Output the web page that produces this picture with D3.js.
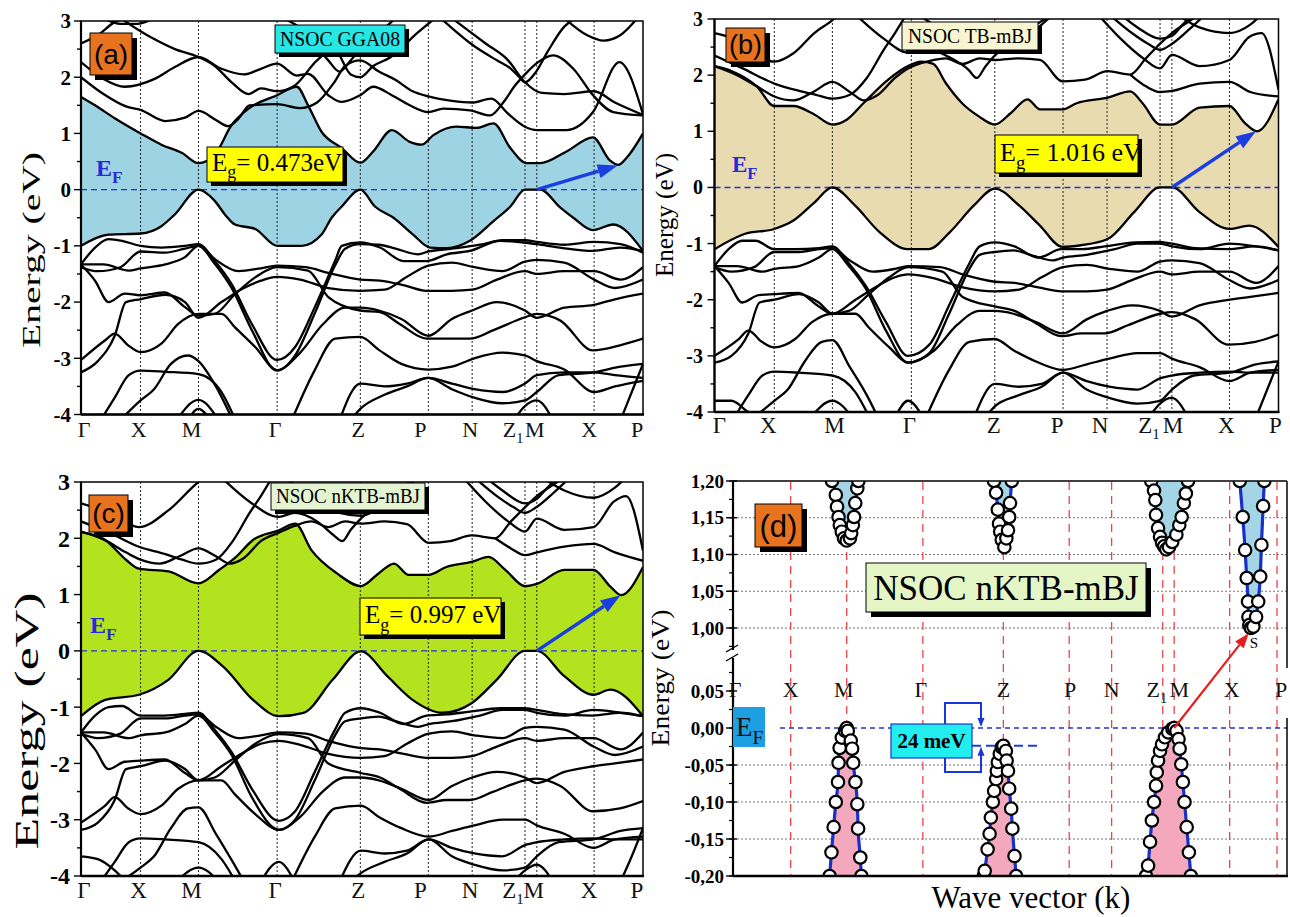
<!DOCTYPE html>
<html>
<head>
<meta charset="utf-8">
<script src="https://cdn.jsdelivr.net/npm/d3@7"></script>
<style>
  html, body { margin: 0; padding: 0; background: #fff; }
  svg { display: block; }
</style>
</head>
<body>
<svg id="fig" width="1290" height="917"></svg>
<script>
// ---------- shared path / axis data ----------
const kLabels = ["Γ", "X", "M", "Γ", "Z", "P", "N", "Z1", "M", "X", "P"];
const kPos = [0, 0.106, 0.209, 0.349, 0.497, 0.618, 0.696, 0.79, 0.811, 0.913, 1];
const energyTicks = [3, 2, 1, 0, -1, -2, -3, -4];

// ---------- (a) NSOC GGA08 ----------
const cbA = [[0,1.65],[0.025,1.5],[0.06,1.27],[0.106,1.0],[0.143,0.8],[0.18,0.65],[0.209,0.47],[0.238,0.62],[0.268,1.15],[0.298,1.44],[0.349,1.68],[0.384,1.83],[0.404,1.5],[0.428,1.03],[0.464,0.74],[0.497,0.48],[0.52,0.68],[0.553,1.06],[0.585,0.85],[0.606,0.8],[0.627,0.97],[0.668,1.12],[0.704,1.1],[0.734,1.18],[0.764,0.74],[0.793,0.47],[0.817,0.47],[0.864,0.68],[0.911,0.93],[0.941,0.52],[0.956,0.44],[0.972,0.58],[1,1.0]];
const vbA = [[0,-1.0],[0.049,-0.8],[0.106,-0.78],[0.143,-0.65],[0.167,-0.44],[0.209,0],[0.238,-0.2],[0.256,-0.44],[0.274,-0.62],[0.31,-0.7],[0.349,-1.0],[0.393,-1.0],[0.428,-0.8],[0.446,-0.5],[0.464,-0.3],[0.497,0],[0.523,-0.3],[0.556,-0.5],[0.591,-0.8],[0.621,-1.03],[0.651,-1.04],[0.692,-0.91],[0.734,-0.56],[0.764,-0.3],[0.79,0],[0.817,0],[0.853,-0.32],[0.876,-0.5],[0.911,-0.72],[0.947,-0.62],[1,-1.09]];
const upperA = [
  [[0,2.27],[0.04,1.97],[0.078,1.83],[0.131,1.97],[0.167,2.18],[0.209,2.36],[0.25,2.15],[0.29,2.05],[0.32,2.15],[0.349,2.24],[0.384,2.03],[0.404,2.06],[0.44,1.68],[0.464,1.56],[0.497,1.68],[0.52,1.83],[0.553,1.68],[0.585,1.5],[0.618,1.38],[0.645,1.44],[0.692,1.41],[0.728,1.32],[0.752,1.56],[0.773,1.86],[0.79,2.05],[0.811,2.25],[0.84,2.39],[0.876,2.15],[0.911,1.68],[0.947,1.38],[1,1.32]],
  [[0,2.0],[0.04,1.7],[0.08,1.48],[0.106,1.42],[0.15,1.22],[0.185,1.28],[0.209,1.4],[0.24,1.24],[0.262,1.13],[0.28,1.26],[0.3,1.5],[0.349,1.52],[0.39,1.45],[0.42,1.55],[0.45,1.9],[0.47,2.2],[0.497,2.3],[0.53,2.1],[0.56,1.95],[0.59,1.75],[0.618,1.66],[0.66,1.58],[0.696,1.55],[0.73,1.62],[0.76,1.35],[0.79,1.12],[0.811,1.06],[0.864,1.06],[0.911,1.38],[0.958,2.27],[1,1.34]],
  [[0.07,3.05],[0.126,2.7],[0.167,2.5],[0.209,2.36],[0.238,2.2],[0.268,1.91],[0.298,1.7],[0.32,1.8],[0.349,1.75],[0.38,1.85],[0.42,2.3],[0.45,2.5],[0.48,2.05],[0.497,2.0],[0.52,2.2],[0.55,2.35],[0.6,2.8],[0.63,3.05]],
  [[0,2.6],[0.03,2.75],[0.06,2.98],[0.08,3.05]],
  [[0.04,3.05],[0.07,2.95],[0.1,2.95],[0.13,3.05]],
  [[0.36,3.05],[0.4,2.8],[0.44,2.3],[0.46,2.1],[0.48,2.3],[0.497,2.5],[0.52,2.7],[0.56,3.05]],
  [[0.64,3.05],[0.7,2.55],[0.74,2.3],[0.765,2.15],[0.78,2.0],[0.79,1.91],[0.81,2.1],[0.83,2.45],[0.86,2.9],[0.88,3.05]],
  [[0.66,3.05],[0.72,2.6],[0.76,2.3],[0.79,1.91],[0.82,1.72],[0.86,1.7],[0.913,1.75],[0.95,1.55],[1,1.33]],
  [[0.86,3.05],[0.9,2.75],[0.93,2.65],[0.96,2.75],[0.99,3.05]]
];
const lowerA = [
  [[0,-1.33],[0.025,-1.03],[0.049,-0.88],[0.073,-0.91],[0.106,-1.0],[0.143,-1.03],[0.185,-1.0],[0.209,-0.97],[0.238,-1.27],[0.268,-1.68],[0.304,-2.39],[0.349,-3.03],[0.381,-2.8],[0.416,-2.09],[0.452,-1.27],[0.464,-1.0],[0.497,-0.94],[0.532,-1.03],[0.574,-1.27],[0.615,-1.27],[0.651,-1.15],[0.692,-1.09],[0.746,-0.91],[0.787,-0.94],[0.811,-0.97],[0.852,-1.03],[0.911,-1.09],[0.959,-1.03],[1,-1.09]],
  [[0,-1.33],[0.04,-1.33],[0.085,-1.44],[0.106,-1.4],[0.15,-1.33],[0.185,-1.2],[0.209,-1.0],[0.238,-1.32],[0.268,-1.75],[0.304,-2.5],[0.349,-3.22],[0.381,-2.95],[0.416,-2.2],[0.452,-1.35],[0.47,-1.05],[0.497,-0.97],[0.53,-0.98],[0.56,-1.05],[0.6,-1.15],[0.618,-1.1],[0.66,-1.05],[0.71,-0.98],[0.75,-0.9],[0.79,-0.9],[0.811,-0.93],[0.86,-0.98],[0.913,-0.93],[0.96,-0.97],[1,-1.12]],
  [[0,-1.33],[0.025,-1.62],[0.049,-2.0],[0.078,-1.85],[0.106,-1.88],[0.149,-1.83],[0.185,-2.09],[0.209,-2.24],[0.238,-2.21],[0.274,-1.86],[0.31,-1.56],[0.349,-1.38],[0.404,-1.44],[0.44,-1.91],[0.497,-2.15],[0.532,-2.18],[0.567,-2.39],[0.615,-2.65],[0.651,-2.65],[0.692,-2.65],[0.734,-2.5],[0.79,-2.27],[0.811,-2.21],[0.853,-2.33],[0.911,-2.86],[0.959,-2.77],[1,-2.65]],
  [[0,-1.38],[0.03,-1.45],[0.07,-1.38],[0.106,-1.1],[0.15,-1.12],[0.185,-1.05],[0.209,-1.0],[0.24,-1.25],[0.28,-1.45],[0.32,-1.4],[0.349,-1.35],[0.4,-1.38],[0.44,-1.48],[0.497,-1.6],[0.532,-1.62],[0.574,-1.7],[0.615,-1.8],[0.66,-1.8],[0.696,-1.78],[0.74,-1.6],[0.79,-1.45],[0.811,-1.5],[0.86,-1.45],[0.913,-1.45],[0.96,-1.6],[1,-1.38]],
  [[0,-3.03],[0.043,-2.68],[0.06,-2.56],[0.084,-2.77],[0.106,-2.89],[0.143,-2.74],[0.173,-2.39],[0.209,-2.21],[0.25,-2.21],[0.274,-2.45],[0.31,-2.8],[0.349,-3.21],[0.39,-2.9],[0.43,-2.4],[0.47,-2.1],[0.497,-2.1],[0.53,-2.15],[0.57,-2.3],[0.618,-2.6],[0.66,-2.3],[0.696,-2.15],[0.74,-2.0],[0.79,-2.15],[0.811,-2.28],[0.86,-2.1],[0.913,-2.05],[0.95,-1.95],[1,-1.85]],
  [[0,-3.25],[0.03,-3.05],[0.06,-2.6],[0.08,-2.0],[0.106,-1.95],[0.15,-1.87],[0.185,-2.0],[0.209,-2.28],[0.25,-2.0],[0.29,-1.75],[0.32,-1.62],[0.349,-1.55],[0.39,-1.6],[0.44,-1.75],[0.497,-1.8],[0.54,-1.78],[0.58,-1.55],[0.618,-1.35],[0.66,-1.3],[0.7,-1.38],[0.75,-1.45],[0.79,-1.28],[0.811,-1.25],[0.86,-1.3],[0.913,-1.6],[0.95,-1.75],[1,-1.6]],
  [[0.035,-4.1],[0.06,-3.7],[0.085,-3.3],[0.106,-3.22],[0.15,-3.24],[0.209,-3.28],[0.25,-3.6],[0.275,-4.1]],
  [[0.07,-4.1],[0.106,-3.75],[0.13,-3.55],[0.16,-3.1],[0.19,-2.95],[0.209,-3.05],[0.24,-3.5],[0.27,-4.1]],
  [[0.17,-4.1],[0.209,-3.74],[0.245,-4.1]],
  [[0.19,-4.1],[0.209,-3.9],[0.23,-4.1]],
  [[0.375,-4.1],[0.416,-3.21],[0.452,-2.65],[0.497,-2.62],[0.53,-2.85],[0.57,-3.1],[0.618,-3.2],[0.66,-3.15],[0.7,-3.0],[0.75,-2.9],[0.79,-2.95],[0.811,-3.05],[0.86,-3.2],[0.913,-3.6],[0.95,-3.5],[1,-3.4]],
  [[0.46,-4.1],[0.497,-3.45],[0.54,-3.5],[0.58,-3.45],[0.618,-3.35],[0.66,-3.45],[0.7,-3.55],[0.75,-3.6],[0.79,-3.45],[0.811,-3.3],[0.86,-3.25],[0.913,-3.25],[0.95,-3.3],[1,-3.35]],
  [[0.48,-4.1],[0.497,-3.9],[0.54,-3.65],[0.58,-3.5],[0.618,-3.35],[0.66,-3.55],[0.7,-3.7],[0.75,-3.8],[0.79,-3.75],[0.811,-3.6],[0.85,-3.3],[0.913,-3.25],[0.96,-3.15],[1,-3.1]],
  [[0.77,-4.1],[0.79,-3.85],[0.811,-3.75],[0.84,-4.1]],
  [[0.96,-4.1],[0.98,-3.6],[1,-3.1]]
];

// ---------- (b) NSOC TB-mBJ ----------
const cbB = [[0,2.16],[0.031,2.07],[0.075,1.8],[0.106,1.45],[0.14,1.45],[0.177,1.3],[0.209,1.12],[0.235,1.21],[0.264,1.5],[0.308,1.92],[0.343,2.16],[0.366,2.24],[0.388,2.2],[0.41,1.86],[0.439,1.5],[0.468,1.27],[0.497,1.12],[0.526,1.33],[0.555,1.57],[0.577,1.39],[0.617,1.39],[0.642,1.5],[0.697,1.6],[0.737,1.71],[0.759,1.5],[0.79,1.12],[0.811,1.12],[0.86,1.42],[0.913,1.45],[0.94,1.15],[0.962,1.0],[1,1.57]];
const vbB = [[0,-1.1],[0.053,-0.83],[0.106,-0.74],[0.14,-0.59],[0.177,-0.27],[0.209,0],[0.249,-0.32],[0.293,-0.8],[0.343,-1.1],[0.38,-1.1],[0.417,-0.8],[0.46,-0.32],[0.497,-0.02],[0.54,-0.32],[0.577,-0.68],[0.617,-1.06],[0.65,-1.03],[0.697,-0.92],[0.744,-0.44],[0.79,0],[0.811,0],[0.86,-0.44],[0.913,-0.74],[0.948,-0.68],[1,-1.06]];
const upperB = [
  [[0,2.75],[0.031,2.66],[0.075,2.36],[0.106,2.24],[0.14,2.39],[0.177,2.75],[0.209,2.98],[0.22,3.08]],
  [[0,2.16],[0.04,2.0],[0.075,1.8],[0.106,1.62],[0.14,1.55],[0.175,1.7],[0.209,1.88],[0.24,1.7],[0.265,1.55],[0.29,1.65],[0.32,1.95],[0.343,2.12],[0.38,2.25],[0.41,2.3],[0.44,2.2],[0.47,2.3],[0.497,2.27],[0.54,2.3],[0.577,2.27],[0.617,1.89],[0.657,1.92],[0.697,2.07],[0.737,2.01],[0.765,2.3],[0.791,2.57],[0.811,2.75],[0.84,2.95],[0.86,3.08]],
  [[0,2.35],[0.05,2.12],[0.106,1.85],[0.15,1.72],[0.18,1.65],[0.209,1.58],[0.24,1.65],[0.27,1.95],[0.3,2.45],[0.32,2.75],[0.34,3.08]],
  [[0.25,3.08],[0.3,2.65],[0.343,2.4],[0.38,2.45],[0.42,2.3],[0.45,2.1],[0.465,1.95],[0.48,2.15],[0.497,2.35],[0.53,2.6],[0.57,2.9],[0.6,3.08]],
  [[0.36,3.08],[0.42,2.7],[0.46,2.45],[0.497,2.4],[0.54,2.6],[0.58,2.9],[0.6,3.08]],
  [[0.7,3.08],[0.74,2.75],[0.77,2.55],[0.79,2.45],[0.81,2.55],[0.84,2.8],[0.87,3.08]],
  [[0.72,3.08],[0.75,2.85],[0.79,2.65],[0.811,2.7],[0.83,2.9],[0.85,3.08]],
  [[0.68,3.08],[0.72,2.65],[0.76,2.3],[0.79,2.12],[0.811,2.36],[0.86,2.16],[0.913,2.27],[0.948,2.68],[0.97,2.75],[1,1.74]],
  [[0.737,2.01],[0.765,1.8],[0.79,1.7],[0.811,1.72],[0.86,1.85],[0.913,1.88],[0.95,1.7],[1,1.62]],
  [[0.82,3.08],[0.86,2.85],[0.913,2.75],[0.95,2.9],[0.97,3.08]]
];
const lowerB = [
  [[0,-1.4],[0.025,-1.1],[0.049,-0.95],[0.073,-0.95],[0.106,-1.1],[0.143,-1.1],[0.185,-1.08],[0.209,-1.05],[0.238,-1.35],[0.268,-1.75],[0.304,-2.4],[0.343,-3.0],[0.381,-2.8],[0.416,-2.1],[0.452,-1.35],[0.47,-1.05],[0.497,-0.98],[0.532,-1.05],[0.574,-1.25],[0.615,-1.1],[0.651,-1.1],[0.692,-1.05],[0.746,-0.98],[0.787,-0.97],[0.811,-1.0],[0.852,-1.08],[0.911,-1.1],[0.959,-1.05],[1,-1.12]],
  [[0,-1.4],[0.04,-1.4],[0.085,-1.5],[0.106,-1.45],[0.15,-1.4],[0.185,-1.25],[0.209,-1.1],[0.238,-1.4],[0.268,-1.8],[0.304,-2.55],[0.343,-3.12],[0.381,-2.95],[0.416,-2.25],[0.452,-1.45],[0.47,-1.2],[0.497,-1.15],[0.53,-1.12],[0.56,-1.2],[0.6,-1.3],[0.618,-1.25],[0.66,-1.2],[0.71,-1.1],[0.75,-1.0],[0.79,-1.0],[0.811,-1.05],[0.86,-1.1],[0.913,-1.0],[0.96,-1.05],[1,-1.12]],
  [[0,-1.4],[0.025,-1.7],[0.049,-2.05],[0.078,-1.92],[0.106,-1.9],[0.149,-1.88],[0.185,-2.12],[0.209,-2.25],[0.238,-2.2],[0.274,-1.9],[0.31,-1.6],[0.343,-1.42],[0.404,-1.5],[0.44,-1.95],[0.497,-2.12],[0.532,-2.2],[0.567,-2.4],[0.615,-2.65],[0.651,-2.6],[0.692,-2.6],[0.734,-2.45],[0.79,-2.25],[0.811,-2.22],[0.853,-2.35],[0.911,-2.8],[0.959,-2.75],[1,-2.62]],
  [[0,-1.42],[0.03,-1.5],[0.07,-1.42],[0.106,-1.15],[0.15,-1.15],[0.185,-1.1],[0.209,-1.08],[0.24,-1.3],[0.28,-1.5],[0.32,-1.45],[0.343,-1.4],[0.4,-1.42],[0.44,-1.55],[0.497,-1.68],[0.532,-1.7],[0.574,-1.78],[0.615,-1.85],[0.66,-1.85],[0.696,-1.82],[0.74,-1.65],[0.79,-1.5],[0.811,-1.55],[0.86,-1.5],[0.913,-1.5],[0.96,-1.7],[1,-1.4]],
  [[0,-3.0],[0.043,-2.7],[0.06,-2.55],[0.084,-2.75],[0.106,-2.85],[0.143,-2.7],[0.173,-2.4],[0.209,-2.25],[0.25,-2.25],[0.274,-2.5],[0.31,-2.85],[0.343,-3.12],[0.39,-2.9],[0.43,-2.45],[0.47,-2.2],[0.497,-2.2],[0.53,-2.25],[0.57,-2.4],[0.618,-2.6],[0.66,-2.35],[0.696,-2.2],[0.74,-2.1],[0.79,-2.2],[0.811,-2.3],[0.86,-2.1],[0.913,-2.0],[0.95,-1.95],[1,-1.88]],
  [[0,-3.12],[0.03,-3.0],[0.06,-2.6],[0.08,-2.05],[0.106,-2.0],[0.15,-1.9],[0.185,-2.05],[0.209,-2.25],[0.25,-2.0],[0.29,-1.75],[0.32,-1.6],[0.343,-1.55],[0.39,-1.62],[0.44,-1.78],[0.497,-1.85],[0.54,-1.82],[0.58,-1.6],[0.618,-1.42],[0.66,-1.38],[0.7,-1.45],[0.75,-1.5],[0.79,-1.32],[0.811,-1.3],[0.86,-1.35],[0.913,-1.65],[0.95,-1.8],[1,-1.65]],
  [[0.035,-4.1],[0.06,-3.7],[0.085,-3.35],[0.106,-3.28],[0.15,-3.3],[0.209,-3.35],[0.25,-3.65],[0.275,-4.1]],
  [[0.07,-4.1],[0.106,-3.8],[0.13,-3.6],[0.16,-3.1],[0.19,-2.75],[0.209,-2.72],[0.24,-3.2],[0.27,-3.7],[0.29,-4.1]],
  [[0.17,-4.1],[0.209,-3.8],[0.245,-4.1]],
  [[0.375,-4.1],[0.416,-3.25],[0.452,-2.75],[0.497,-2.7],[0.53,-2.9],[0.57,-3.1],[0.618,-3.25],[0.66,-3.15],[0.7,-3.05],[0.75,-2.95],[0.79,-2.95],[0.811,-3.05],[0.86,-3.2],[0.913,-3.45],[0.95,-3.3],[1,-3.25]],
  [[0.46,-4.1],[0.497,-3.5],[0.54,-3.55],[0.58,-3.5],[0.618,-3.3],[0.66,-3.45],[0.7,-3.55],[0.75,-3.6],[0.79,-3.4],[0.811,-3.35],[0.86,-3.3],[0.913,-3.28],[0.95,-3.3],[1,-3.3]],
  [[0.48,-4.1],[0.497,-3.9],[0.54,-3.7],[0.58,-3.55],[0.618,-3.3],[0.66,-3.6],[0.7,-3.75],[0.75,-3.85],[0.79,-3.8],[0.811,-3.6],[0.85,-3.35],[0.913,-3.3],[0.96,-3.15],[1,-3.1]],
  [[0.77,-4.1],[0.79,-3.85],[0.811,-3.75],[0.84,-4.1]],
  [[0.96,-4.1],[0.98,-3.6],[1,-3.1]],
  [[0,-3.8],[0.03,-3.8],[0.06,-4.0],[0.08,-4.1]],
  [[0.32,-4.1],[0.343,-3.8],[0.37,-4.1]]
];

// ---------- (c) NSOC nKTB-mBJ ----------
const cbC = [[0,2.11],[0.043,1.97],[0.081,1.61],[0.103,1.46],[0.156,1.41],[0.209,1.2],[0.246,1.44],[0.276,1.67],[0.306,1.97],[0.352,2.14],[0.381,2.26],[0.41,1.79],[0.455,1.38],[0.498,1.15],[0.53,1.38],[0.557,1.55],[0.583,1.35],[0.619,1.35],[0.65,1.49],[0.695,1.58],[0.725,1.67],[0.755,1.44],[0.79,1.15],[0.811,1.19],[0.86,1.44],[0.912,1.44],[0.942,1.14],[0.961,0.99],[1,1.49]];
const vbC = [[0,-1.16],[0.043,-0.87],[0.103,-0.78],[0.156,-0.51],[0.209,0],[0.253,-0.28],[0.306,-0.87],[0.352,-1.16],[0.396,-1.1],[0.448,-0.51],[0.498,-0.01],[0.545,-0.45],[0.59,-0.87],[0.643,-1.1],[0.695,-0.93],[0.74,-0.51],[0.79,0],[0.811,0],[0.86,-0.45],[0.912,-0.78],[0.942,-0.69],[1,-1.16]];
const upperC = [
  [[0,2.62],[0.051,2.45],[0.103,2.2],[0.156,2.5],[0.209,3.0],[0.22,3.08]],
  [[0,2.12],[0.04,1.98],[0.08,1.75],[0.106,1.62],[0.14,1.55],[0.175,1.68],[0.209,1.82],[0.24,1.68],[0.265,1.55],[0.29,1.65],[0.32,1.95],[0.352,2.1],[0.38,2.22],[0.41,2.3],[0.44,2.2],[0.47,2.3],[0.498,2.26],[0.54,2.3],[0.58,2.25],[0.619,1.92],[0.657,1.95],[0.695,2.05],[0.737,2.0],[0.765,2.3],[0.79,2.55],[0.811,2.75],[0.84,2.95],[0.86,3.08]],
  [[0,2.3],[0.05,2.1],[0.103,1.85],[0.15,1.72],[0.18,1.62],[0.209,1.55],[0.24,1.62],[0.27,1.95],[0.3,2.45],[0.32,2.75],[0.34,3.08]],
  [[0.25,3.08],[0.3,2.65],[0.352,2.38],[0.38,2.45],[0.42,2.3],[0.45,2.05],[0.465,1.95],[0.48,2.15],[0.498,2.35],[0.53,2.6],[0.57,2.9],[0.6,3.08]],
  [[0.36,3.08],[0.42,2.7],[0.46,2.45],[0.498,2.4],[0.54,2.6],[0.58,2.9],[0.6,3.08]],
  [[0.7,3.08],[0.74,2.75],[0.77,2.55],[0.79,2.45],[0.81,2.55],[0.84,2.8],[0.87,3.08]],
  [[0.72,3.08],[0.75,2.85],[0.79,2.62],[0.811,2.7],[0.83,2.9],[0.85,3.08]],
  [[0.68,3.08],[0.72,2.65],[0.76,2.3],[0.79,2.12],[0.811,2.35],[0.86,2.15],[0.912,2.2],[0.948,2.65],[0.97,2.75],[1,1.78]],
  [[0.737,2.0],[0.765,1.82],[0.79,1.7],[0.811,1.75],[0.86,1.85],[0.912,1.9],[0.95,1.75],[1,1.6]],
  [[0.82,3.08],[0.86,2.85],[0.912,2.72],[0.95,2.9],[0.97,3.08]]
];
const lowerC = [
  [[0,-1.45],[0.025,-1.15],[0.049,-1.0],[0.073,-0.98],[0.106,-1.15],[0.143,-1.15],[0.185,-1.12],[0.209,-1.1],[0.238,-1.4],[0.268,-1.8],[0.304,-2.45],[0.352,-3.02],[0.381,-2.85],[0.416,-2.15],[0.452,-1.4],[0.47,-1.1],[0.498,-1.02],[0.532,-1.1],[0.574,-1.3],[0.615,-1.15],[0.651,-1.13],[0.692,-1.08],[0.746,-1.02],[0.787,-1.02],[0.811,-1.05],[0.852,-1.12],[0.911,-1.15],[0.959,-1.1],[1,-1.16]],
  [[0,-1.45],[0.04,-1.45],[0.085,-1.55],[0.106,-1.5],[0.15,-1.45],[0.185,-1.3],[0.209,-1.15],[0.238,-1.45],[0.268,-1.85],[0.304,-2.6],[0.352,-3.18],[0.381,-3.0],[0.416,-2.3],[0.452,-1.5],[0.47,-1.25],[0.498,-1.2],[0.53,-1.17],[0.56,-1.25],[0.6,-1.35],[0.619,-1.3],[0.66,-1.25],[0.71,-1.15],[0.75,-1.05],[0.79,-1.05],[0.811,-1.1],[0.86,-1.15],[0.912,-1.05],[0.96,-1.1],[1,-1.16]],
  [[0,-1.45],[0.025,-1.75],[0.049,-2.1],[0.078,-1.97],[0.106,-1.95],[0.149,-1.93],[0.185,-2.17],[0.209,-2.3],[0.238,-2.25],[0.274,-1.95],[0.31,-1.65],[0.352,-1.48],[0.404,-1.55],[0.44,-2.0],[0.498,-2.17],[0.532,-2.25],[0.567,-2.45],[0.615,-2.7],[0.651,-2.65],[0.692,-2.65],[0.734,-2.5],[0.79,-2.3],[0.811,-2.27],[0.853,-2.4],[0.911,-2.85],[0.959,-2.8],[1,-2.67]],
  [[0,-1.47],[0.03,-1.55],[0.07,-1.47],[0.106,-1.2],[0.15,-1.2],[0.185,-1.15],[0.209,-1.13],[0.24,-1.35],[0.28,-1.55],[0.32,-1.5],[0.352,-1.45],[0.4,-1.47],[0.44,-1.6],[0.498,-1.73],[0.532,-1.75],[0.574,-1.83],[0.615,-1.9],[0.66,-1.9],[0.696,-1.87],[0.74,-1.7],[0.79,-1.55],[0.811,-1.6],[0.86,-1.55],[0.912,-1.55],[0.96,-1.75],[1,-1.45]],
  [[0,-3.05],[0.043,-2.75],[0.06,-2.6],[0.084,-2.8],[0.106,-2.9],[0.143,-2.75],[0.173,-2.45],[0.209,-2.3],[0.25,-2.3],[0.274,-2.55],[0.31,-2.9],[0.352,-3.18],[0.39,-2.95],[0.43,-2.5],[0.47,-2.25],[0.498,-2.25],[0.53,-2.3],[0.57,-2.45],[0.619,-2.65],[0.66,-2.4],[0.696,-2.25],[0.74,-2.15],[0.79,-2.25],[0.811,-2.35],[0.86,-2.15],[0.912,-2.05],[0.95,-2.0],[1,-1.93]],
  [[0,-3.18],[0.03,-3.05],[0.06,-2.65],[0.08,-2.1],[0.106,-2.05],[0.15,-1.95],[0.185,-2.1],[0.209,-2.3],[0.25,-2.05],[0.29,-1.8],[0.32,-1.65],[0.352,-1.6],[0.39,-1.67],[0.44,-1.83],[0.498,-1.9],[0.54,-1.87],[0.58,-1.65],[0.619,-1.47],[0.66,-1.43],[0.7,-1.5],[0.75,-1.55],[0.79,-1.37],[0.811,-1.35],[0.86,-1.4],[0.912,-1.7],[0.95,-1.85],[1,-1.7]],
  [[0.035,-4.1],[0.06,-3.75],[0.085,-3.4],[0.106,-3.33],[0.15,-3.35],[0.209,-3.4],[0.25,-3.7],[0.275,-4.1]],
  [[0.07,-4.1],[0.106,-3.85],[0.13,-3.65],[0.16,-3.15],[0.19,-2.8],[0.209,-2.78],[0.24,-3.25],[0.27,-3.75],[0.29,-4.1]],
  [[0.17,-4.1],[0.209,-3.85],[0.245,-4.1]],
  [[0.375,-4.1],[0.416,-3.3],[0.452,-2.8],[0.498,-2.75],[0.53,-2.95],[0.57,-3.15],[0.619,-3.3],[0.66,-3.2],[0.7,-3.1],[0.75,-3.0],[0.79,-3.0],[0.811,-3.1],[0.86,-3.25],[0.912,-3.5],[0.95,-3.35],[1,-3.3]],
  [[0.46,-4.1],[0.498,-3.55],[0.54,-3.6],[0.58,-3.55],[0.619,-3.35],[0.66,-3.5],[0.7,-3.6],[0.75,-3.65],[0.79,-3.45],[0.811,-3.4],[0.86,-3.35],[0.912,-3.33],[0.95,-3.35],[1,-3.35]],
  [[0.48,-4.1],[0.498,-3.95],[0.54,-3.75],[0.58,-3.6],[0.619,-3.35],[0.66,-3.65],[0.7,-3.8],[0.75,-3.9],[0.79,-3.85],[0.811,-3.65],[0.85,-3.4],[0.912,-3.35],[0.96,-3.2],[1,-3.15]],
  [[0.77,-4.1],[0.79,-3.9],[0.811,-3.8],[0.84,-4.1]],
  [[0.96,-4.1],[0.98,-3.65],[1,-3.15]],
  [[0,-3.65],[0.03,-3.7],[0.06,-3.9],[0.08,-4.1]],
  [[0.32,-4.1],[0.352,-3.75],[0.38,-4.1]]
];

// ---------- (d) zoom around the gap, NSOC nKTB-mBJ ----------
const dTicksHigh = [1.20, 1.15, 1.10, 1.05, 1.00];
const dTicksLow = [0.05, 0.00, -0.05, -0.10, -0.15, -0.20];
// conduction-band valleys (eV above E_F)
const dValleyM = [[0.182,1.2],[0.189,1.181],[0.1912,1.165],[0.194,1.151],[0.1963,1.14],[0.2,1.131],[0.204,1.122],[0.209,1.119],[0.215,1.122],[0.2173,1.129],[0.2204,1.14],[0.2226,1.151],[0.2248,1.17],[0.2285,1.19],[0.2305,1.2]];
const dValleyZ = [[0.4798,1.2],[0.4836,1.184],[0.4868,1.161],[0.489,1.142],[0.4912,1.131],[0.494,1.12],[0.4988,1.11],[0.5025,1.122],[0.5055,1.133],[0.5077,1.151],[0.5092,1.17],[0.5125,1.2]];
const dValleyZ1M = [[0.7688,1.2],[0.7739,1.187],[0.7763,1.174],[0.7776,1.154],[0.7813,1.136],[0.785,1.124],[0.7887,1.116],[0.7925,1.111],[0.7965,1.107],[0.8015,1.11],[0.8074,1.117],[0.815,1.127],[0.8204,1.14],[0.8248,1.151],[0.8288,1.17],[0.8325,1.183],[0.8364,1.2]];
const dValleyS = [[0.9316,1.2],[0.937,1.151],[0.9414,1.106],[0.9443,1.068],[0.9467,1.036],[0.9475,1.015],[0.949,1.004],[0.952,1.0],[0.9565,1.002],[0.9616,1.015],[0.9655,1.036],[0.9692,1.07],[0.9714,1.113],[0.9745,1.166],[0.9767,1.2]];
// valence-band peaks (eV below E_F)
const dPeakM = [[0.1776,-0.2],[0.181,-0.168],[0.185,-0.134],[0.189,-0.1],[0.193,-0.073],[0.194,-0.047],[0.196,-0.027],[0.2,-0.013],[0.206,-0.004],[0.209,0],[0.211,-0.004],[0.2165,-0.017],[0.219,-0.028],[0.221,-0.047],[0.225,-0.073],[0.2285,-0.103],[0.23,-0.136],[0.234,-0.175],[0.236,-0.2]];
const dPeakZ = [[0.461,-0.2],[0.4627,-0.193],[0.468,-0.164],[0.4717,-0.143],[0.474,-0.121],[0.4777,-0.1],[0.48,-0.085],[0.4837,-0.069],[0.485,-0.058],[0.4868,-0.046],[0.4904,-0.035],[0.494,-0.026],[0.497,-0.024],[0.5016,-0.031],[0.503,-0.044],[0.5055,-0.058],[0.5077,-0.082],[0.5114,-0.109],[0.5136,-0.136],[0.5175,-0.173],[0.5205,-0.2]];
const dPeakZ1M = [[0.7592,-0.2],[0.763,-0.186],[0.7666,-0.154],[0.77,-0.125],[0.7739,-0.1],[0.7776,-0.078],[0.779,-0.06],[0.7813,-0.044],[0.785,-0.031],[0.7887,-0.022],[0.794,-0.0126],[0.8,-0.006],[0.8077,-0.001],[0.811,0],[0.8153,-0.004],[0.819,-0.015],[0.821,-0.028],[0.824,-0.049],[0.827,-0.073],[0.83,-0.1],[0.834,-0.134],[0.838,-0.168],[0.8416,-0.2]];
const dGapStart = [0.811, 0.0];     // VBM
const dGapEnd = [0.948, 0.993];     // CBM (S)
const dSplit = [0.0, -0.024];       // VBM at M/Z1 and at Z

// ---------- rendering ----------
const serif = '"Liberation Serif","Times New Roman",serif';
const sans = '"Liberation Sans",Arial,sans-serif';
const svg = d3.select("#fig");
const defs = svg.append("defs");

function shadowBox(g, x, y, w, h, fill, off, stroke) {
  g.append("rect").attr("x", x + off).attr("y", y + off).attr("width", w).attr("height", h).attr("fill", "#000");
  g.append("rect").attr("x", x).attr("y", y).attr("width", w).attr("height", h)
    .attr("fill", fill).attr("stroke", stroke || "#000").attr("stroke-width", 1);
}

function arrow(g, x1, y1, x2, y2, color, width, headLen, headW) {
  const ang = Math.atan2(y2 - y1, x2 - x1);
  const bx = x2 - headLen * Math.cos(ang), by = y2 - headLen * Math.sin(ang);
  g.append("line").attr("x1", x1).attr("y1", y1).attr("x2", bx).attr("y2", by)
    .attr("stroke", color).attr("stroke-width", width);
  const px = -Math.sin(ang) * headW / 2, py = Math.cos(ang) * headW / 2;
  g.append("path").attr("d", `M${x2},${y2}L${bx + px},${by + py}L${bx - px},${by - py}Z`).attr("fill", color);
}

function kLabel(g, label, x, y, fs) {
  const t = g.append("text").attr("x", x).attr("y", y).attr("text-anchor", "middle")
    .attr("font-family", serif).attr("font-size", fs).attr("fill", "#111");
  if (label === "Z1") {
    t.append("tspan").text("Z");
    t.append("tspan").attr("dy", fs * 0.28).attr("font-size", fs * 0.65).text("1");
  } else {
    t.text(label);
  }
}

function subText(g, x, y, fs, main, sub, rest, opts) {
  const t = g.append("text").attr("x", x).attr("y", y).attr("font-family", serif)
    .attr("font-size", fs).attr("fill", opts.color || "#000").attr("font-weight", opts.weight || "normal");
  t.append("tspan").text(main);
  t.append("tspan").attr("dy", fs * 0.3).attr("font-size", fs * 0.72).text(sub);
  if (rest) t.append("tspan").attr("dy", -fs * 0.3).text(rest);
  return t;
}

function energyTitle(g, t) {
  g.append("text").attr("transform", `translate(${t.x},${t.y}) rotate(-90) scale(1,${t.sy})`)
    .attr("text-anchor", "middle").attr("dominant-baseline", "central")
    .attr("font-family", serif).attr("font-size", t.fs)
    .attr("textLength", t.len).attr("lengthAdjust", "spacingAndGlyphs").text("Energy (eV)");
}

function bandPanel(c) {
  const x = d3.scaleLinear().domain([0, 1]).range([c.x0, c.x1]);
  const y = d3.scaleLinear().domain([-4, 3]).range([c.y1, c.y0]);
  const g = svg.append("g");
  defs.append("clipPath").attr("id", "clip-" + c.id).append("rect")
    .attr("x", c.x0).attr("y", c.y0).attr("width", c.x1 - c.x0).attr("height", c.y1 - c.y0);
  const plot = g.append("g").attr("clip-path", `url(#clip-${c.id})`);
  const line = d3.line().x(d => x(d[0])).y(d => y(d[1])).curve(d3.curveMonotoneX);

  // gap region between valence-band top and conduction-band bottom
  const upper = line(c.cb);
  const lower = line(c.vb.slice().reverse());
  plot.append("path").attr("d", upper + "L" + lower.slice(1) + "Z").attr("fill", c.fill);

  // high-symmetry verticals
  plot.selectAll("line.kv").data(kPos.slice(1, -1)).join("line")
    .attr("x1", d => x(d)).attr("x2", d => x(d)).attr("y1", c.y0).attr("y2", c.y1)
    .attr("stroke", "#222").attr("stroke-width", 1).attr("stroke-dasharray", "2,2");

  // Fermi level
  plot.append("line").attr("x1", c.x0).attr("x2", c.x1).attr("y1", y(0)).attr("y2", y(0))
    .attr("stroke", "#2233dd").attr("stroke-width", 1.4).attr("stroke-dasharray", "6,4");

  // bands
  const all = [c.cb, c.vb].concat(c.upper, c.lower);
  plot.selectAll("path.band").data(all).join("path")
    .attr("d", line).attr("fill", "none").attr("stroke", "#000").attr("stroke-width", 2.3)
    .attr("stroke-linejoin", "round");

  // frame
  g.append("rect").attr("x", c.x0).attr("y", c.y0).attr("width", c.x1 - c.x0).attr("height", c.y1 - c.y0)
    .attr("fill", "none").attr("stroke", "#000").attr("stroke-width", 1.5);
  g.append("line").attr("x1", c.x0).attr("x2", c.x0).attr("y1", c.y0).attr("y2", c.y1).attr("stroke", "#000").attr("stroke-width", 2.2);
  g.append("line").attr("x1", c.x0).attr("x2", c.x1 + 1).attr("y1", c.y1).attr("y2", c.y1).attr("stroke", "#000").attr("stroke-width", 2.6);

  // y ticks
  const minor = d3.range(-4, 3.01, 0.5);
  g.selectAll("line.yt").data(minor).join("line")
    .attr("x1", c.x0).attr("x2", d => c.x0 - (Number.isInteger(d) ? 7 : 4))
    .attr("y1", d => y(d)).attr("y2", d => y(d)).attr("stroke", "#000").attr("stroke-width", 1.4);
  g.selectAll("text.yl").data(energyTicks).join("text")
    .attr("x", c.tickX).attr("y", d => y(d) + c.tickFont * 0.35).attr("text-anchor", "end")
    .attr("font-family", serif).attr("font-weight", "bold").attr("font-size", c.tickFont).text(d => d);

  // k labels
  kLabels.forEach((lab, i) => kLabel(g, lab, x(kPos[i]) + c.labelDx[i], c.labelY, c.labelFont));

  energyTitle(g, c.title);

  // panel letter
  shadowBox(g, c.letter.x, c.letter.y, c.letter.w, c.letter.h, "#e8731e", 5);
  g.append("text").attr("x", c.letter.x + c.letter.w / 2).attr("y", c.letter.y + c.letter.h / 2 + c.letter.fs * 0.35)
    .attr("text-anchor", "middle").attr("font-family", sans).attr("font-size", c.letter.fs).text(c.letter.text);

  // method tag
  shadowBox(g, c.tag.x, c.tag.y, c.tag.w, c.tag.h, c.tag.fill, 4);
  g.append("text").attr("x", c.tag.x + c.tag.w / 2).attr("y", c.tag.y + c.tag.h / 2 + c.tag.fs * 0.34)
    .attr("text-anchor", "middle").attr("font-family", serif).attr("font-size", c.tag.fs)
    .attr("textLength", c.tag.len).attr("lengthAdjust", "spacingAndGlyphs").text(c.tag.text);

  // E_F label
  subText(g, c.ef.x, c.ef.y, c.ef.fs, "E", "F", null, { color: "#2a2ad8", weight: "bold" });

  // gap label
  shadowBox(g, c.gap.x, c.gap.y, c.gap.w, c.gap.h, "#ffff00", 4);
  subText(g, c.gap.x + 5, c.gap.y + c.gap.h * 0.68, c.gap.fs, "E", "g", c.gap.text, {});

  // gap arrow
  arrow(g, x(c.arrow[0][0]), y(c.arrow[0][1]), x(c.arrow[1][0]), y(c.arrow[1][1]), "#1a3fe0", 3.5, 20, 14);
}

bandPanel({
  id: "a", x0: 81, x1: 643, y0: 21, y1: 414.5, fill: "#9dd3e3",
  cb: cbA, vb: vbA, upper: upperA, lower: lowerA,
  tickX: 71, tickFont: 21, labelY: 437, labelFont: 22,
  labelDx: [3, -2, -7, -2, -2, -8, -2, -12, -2, -5, -6],
  title: { x: 32, y: 250, fs: 39, len: 196, sy: 0.62 },
  letter: { x: 90, y: 33, w: 42, h: 42, fs: 28, text: "(a)" },
  tag: { x: 275, y: 25, w: 130, h: 28, fill: "#27e6e6", fs: 21, len: 120, text: "NSOC GGA08" },
  ef: { x: 96, y: 176, fs: 24 },
  gap: { x: 207, y: 147, w: 136, h: 35, fs: 25, text: "= 0.473eV" },
  arrow: [[0.811, 0], [0.955, 0.43]]
});

bandPanel({
  id: "b", x0: 714.5, x1: 1278.5, y0: 19, y1: 412, fill: "#e8dbb0",
  cb: cbB, vb: vbB, upper: upperB, lower: lowerB,
  tickX: 703, tickFont: 20, labelY: 433, labelFont: 23,
  labelDx: [5, -6, 2, -2, -1, -6, -7, -11, 1, -3, -3],
  title: { x: 664, y: 215, fs: 25, len: 124, sy: 1 },
  letter: { x: 726, y: 28, w: 39, h: 34, fs: 27, text: "(b)" },
  tag: { x: 902, y: 22, w: 136, h: 28, fill: "#f8f6d2", fs: 20, len: 124, text: "NSOC TB-mBJ" },
  ef: { x: 732, y: 172, fs: 23 },
  gap: { x: 995, y: 135, w: 143, h: 38, fs: 26, text: "= 1.016 eV" },
  arrow: [[0.811, 0], [0.96, 1.0]]
});

bandPanel({
  id: "c", x0: 81, x1: 643, y0: 482, y1: 876, fill: "#b3e31f",
  cb: cbC, vb: vbC, upper: upperC, lower: lowerC,
  tickX: 70, tickFont: 24, labelY: 898, labelFont: 23,
  labelDx: [3, -2, -7, -2, -2, -8, -2, -12, -3, -5, -6],
  title: { x: 27, y: 721, fs: 51, len: 257, sy: 0.64 },
  letter: { x: 89, y: 495, w: 39, h: 37, fs: 28, text: "(c)" },
  tag: { x: 271, y: 483, w: 154, h: 27, fill: "#e4f4d2", fs: 20, len: 144, text: "NSOC nKTB-mBJ" },
  ef: { x: 90, y: 633, fs: 24 },
  gap: { x: 360, y: 598, w: 141, h: 37, fs: 25, text: "= 0.997 eV" },
  arrow: [[0.811, 0], [0.96, 0.99]]
});

// ---------- panel (d) with broken energy axis ----------
(function () {
  const X0 = 733, X1 = 1287;
  const x = d3.scaleLinear().domain([0, 1]).range([733, 1277]);
  const yHi = d3.scaleLinear().domain([1.0, 1.2]).range([628, 481]);
  const yLo = d3.scaleLinear().domain([-0.2, 0.05]).range([876, 691]);
  const fmt = d3.formatLocale({ decimal: ",", thousands: ".", grouping: [3], currency: ["", ""], minus: "-" }).format(".2f");
  const g = svg.append("g");

  defs.append("clipPath").attr("id", "clip-dhi").append("rect").attr("x", X0).attr("y", 481).attr("width", X1 - X0).attr("height", 174);
  defs.append("clipPath").attr("id", "clip-dlo").append("rect").attr("x", X0).attr("y", 660).attr("width", X1 - X0).attr("height", 216);

  // grid
  g.selectAll("line.gh").data(dTicksHigh.slice(1)).join("line")
    .attr("x1", X0).attr("x2", X1).attr("y1", d => yHi(d)).attr("y2", d => yHi(d))
    .attr("stroke", "#777").attr("stroke-width", 1).attr("stroke-dasharray", "2,2");
  g.selectAll("line.gl").data(dTicksLow.filter(d => d < 0 && d > -0.2)).join("line")
    .attr("x1", X0).attr("x2", X1).attr("y1", d => yLo(d)).attr("y2", d => yLo(d))
    .attr("stroke", "#777").attr("stroke-width", 1).attr("stroke-dasharray", "2,2");

  // red high-symmetry verticals
  g.selectAll("line.kv").data(kPos.slice(1)).join("line")
    .attr("x1", d => x(d)).attr("x2", d => x(d)).attr("y1", 482).attr("y2", 875)
    .attr("stroke", "#e8464a").attr("stroke-width", 1.3).attr("stroke-dasharray", "8,6");

  // Fermi level and the Z-point VBM level
  g.append("line").attr("x1", 780).attr("x2", X1).attr("y1", yLo(dSplit[0])).attr("y2", yLo(dSplit[0]))
    .attr("stroke", "#2233cc").attr("stroke-width", 1.4).attr("stroke-dasharray", "5,4");
  g.append("line").attr("x1", 972).attr("x2", 1038).attr("y1", yLo(dSplit[1])).attr("y2", yLo(dSplit[1]))
    .attr("stroke", "#1a3fd6").attr("stroke-width", 2).attr("stroke-dasharray", "9,5");

  const lineHi = d3.line().x(d => x(d[0])).y(d => yHi(d[1])).curve(d3.curveMonotoneX);
  const lineLo = d3.line().x(d => x(d[0])).y(d => yLo(d[1])).curve(d3.curveMonotoneX);

  const hi = g.append("g").attr("clip-path", "url(#clip-dhi)");
  [dValleyM, dValleyZ, dValleyZ1M, dValleyS].forEach(b => {
    hi.append("path").attr("d", lineHi(b) + "Z").attr("fill", "#a3d5e6");
    hi.append("path").attr("d", lineHi(b)).attr("fill", "none").attr("stroke", "#1830c8").attr("stroke-width", 3.2);
    hi.selectAll(null).data(b).join("circle").attr("cx", d => x(d[0])).attr("cy", d => yHi(d[1])).attr("r", 6.2)
      .attr("fill", "#fff").attr("stroke", "#000").attr("stroke-width", 2.2);
  });
  const lo = g.append("g").attr("clip-path", "url(#clip-dlo)");
  [dPeakM, dPeakZ, dPeakZ1M].forEach(b => {
    lo.append("path").attr("d", lineLo(b) + "Z").attr("fill", "#f4a8be");
    lo.append("path").attr("d", lineLo(b)).attr("fill", "none").attr("stroke", "#1830c8").attr("stroke-width", 3.2);
    lo.selectAll(null).data(b).join("circle").attr("cx", d => x(d[0])).attr("cy", d => yLo(d[1])).attr("r", 6.2)
      .attr("fill", "#fff").attr("stroke", "#000").attr("stroke-width", 2.2);
  });

  // frame with the axis break
  g.append("line").attr("x1", X0).attr("x2", X1).attr("y1", 481).attr("y2", 481).attr("stroke", "#000").attr("stroke-width", 1.5);
  g.append("line").attr("x1", X0).attr("x2", X1 + 1).attr("y1", 876).attr("y2", 876).attr("stroke", "#000").attr("stroke-width", 2.6);
  g.append("line").attr("x1", X1).attr("x2", X1).attr("y1", 481).attr("y2", 668).attr("stroke", "#000").attr("stroke-width", 1.5);
  g.append("line").attr("x1", X1).attr("x2", X1).attr("y1", 718).attr("y2", 876).attr("stroke", "#000").attr("stroke-width", 1.5);
  g.append("line").attr("x1", X0).attr("x2", X0).attr("y1", 481).attr("y2", 650).attr("stroke", "#000").attr("stroke-width", 2.2);
  g.append("line").attr("x1", X0).attr("x2", X0).attr("y1", 658).attr("y2", 876).attr("stroke", "#000").attr("stroke-width", 2.2);
  g.append("line").attr("x1", X0 - 7).attr("x2", X0 + 5).attr("y1", 652).attr("y2", 645).attr("stroke", "#000").attr("stroke-width", 1.4);
  g.append("line").attr("x1", X0 - 7).attr("x2", X0 + 5).attr("y1", 661).attr("y2", 654).attr("stroke", "#000").attr("stroke-width", 1.4);

  // ticks
  const minorHi = d3.range(0.975, 1.2001, 0.025);
  const minorLo = d3.range(-0.2, 0.0751, 0.025);
  g.selectAll("line.mh").data(minorHi).join("line").attr("x1", X0 - 4).attr("x2", X0)
    .attr("y1", d => yHi(d)).attr("y2", d => yHi(d)).attr("stroke", "#000").attr("stroke-width", 1.2);
  g.selectAll("line.ml").data(minorLo).join("line").attr("x1", X0 - 4).attr("x2", X0)
    .attr("y1", d => yLo(d)).attr("y2", d => yLo(d)).attr("stroke", "#000").attr("stroke-width", 1.2);
  g.selectAll("line.th").data(dTicksHigh).join("line").attr("x1", X0 - 7).attr("x2", X0 + 4)
    .attr("y1", d => yHi(d)).attr("y2", d => yHi(d)).attr("stroke", "#000").attr("stroke-width", 1.4);
  g.selectAll("line.tl").data(dTicksLow).join("line").attr("x1", X0 - 7).attr("x2", X0 + 4)
    .attr("y1", d => yLo(d)).attr("y2", d => yLo(d)).attr("stroke", "#000").attr("stroke-width", 1.4);
  g.selectAll("text.lh").data(dTicksHigh).join("text").attr("x", 724).attr("y", d => yHi(d) + 6.5)
    .attr("text-anchor", "end").attr("font-family", serif).attr("font-weight", "bold").attr("font-size", 19).text(fmt);
  g.selectAll("text.ll").data(dTicksLow).join("text").attr("x", 724).attr("y", d => yLo(d) + 6.5)
    .attr("text-anchor", "end").attr("font-family", serif).attr("font-weight", "bold").attr("font-size", 19).text(fmt);

  // k labels
  const dDx = [2, 0, -3, -2, 0, 1, 0, -6, 5, 2, 4];
  kLabels.forEach((lab, i) => kLabel(g, lab, x(kPos[i]) + dDx[i], 697, 22));

  // titles
  energyTitle(g, { x: 661, y: 678, fs: 27, len: 137, sy: 0.92 });
  g.append("text").attr("x", 1031).attr("y", 908).attr("text-anchor", "middle").attr("font-family", serif)
    .attr("font-size", 31).text("Wave vector (k)");

  // labels and boxes
  shadowBox(g, 755, 504, 47, 43, "#e8731e", 5);
  g.append("text").attr("x", 778.5).attr("y", 537).attr("text-anchor", "middle").attr("font-family", sans)
    .attr("font-size", 31).text("(d)");
  shadowBox(g, 866, 563, 280, 49, "#e4f6c6", 5);
  g.append("text").attr("x", 1006).attr("y", 600).attr("text-anchor", "middle").attr("font-family", serif)
    .attr("font-size", 35).text("NSOC nKTB-mBJ");

  g.append("rect").attr("x", 733).attr("y", 707).attr("width", 32).attr("height", 40).attr("fill", "#1f9fe3");
  subText(g, 736, 736, 27, "E", "F", null, { color: "#111" });

  // 24 meV bracket between the two valence-band maxima
  const yEF = yLo(dSplit[0]), yZ = yLo(dSplit[1]);
  g.append("path").attr("d", `M945,724V703H981V${yEF - 8}`).attr("fill", "none").attr("stroke", "#1a35d8").attr("stroke-width", 2);
  g.append("path").attr("d", `M945,758V772H981V${yZ + 8}`).attr("fill", "none").attr("stroke", "#1a35d8").attr("stroke-width", 2);
  g.append("path").attr("d", `M981,${yEF - 1}L977.5,${yEF - 10}L984.5,${yEF - 10}Z`).attr("fill", "#1a35d8");
  g.append("path").attr("d", `M981,${yZ + 1}L977.5,${yZ + 10}L984.5,${yZ + 10}Z`).attr("fill", "#1a35d8");
  g.append("rect").attr("x", 891).attr("y", 724).attr("width", 81).attr("height", 34)
    .attr("fill", "#22eef0").attr("stroke", "#1a35d8").attr("stroke-width", 1.2);
  g.append("text").attr("x", 931.5).attr("y", 748).attr("text-anchor", "middle").attr("font-family", serif)
    .attr("font-weight", "bold").attr("font-size", 21).text("24 meV");

  // indirect gap arrow
  arrow(g, x(dGapStart[0]), yLo(dGapStart[1]), x(dGapEnd[0]), yHi(dGapEnd[1]), "#e81e1e", 2.2, 15, 11);
  g.append("text").attr("x", 1254).attr("y", 648).attr("text-anchor", "middle").attr("font-family", serif)
    .attr("font-size", 15).text("S");
})();
</script>
</body>
</html>
